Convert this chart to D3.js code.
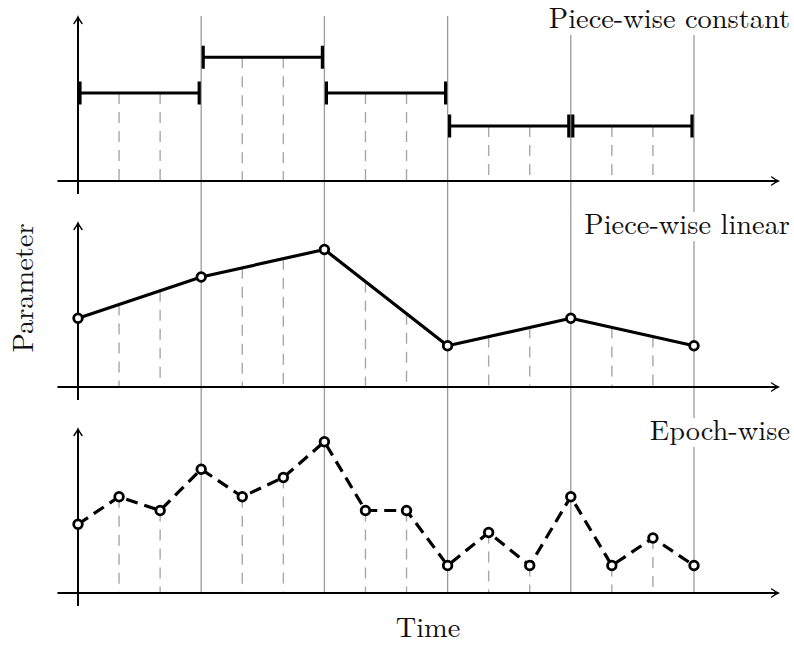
<!DOCTYPE html>
<html>
<head>
<meta charset="utf-8">
<script src="https://cdn.jsdelivr.net/npm/d3@7"></script>
<style>
  body { margin: 0; background: #fff; }
</style>
</head>
<body>
<svg id="chart"></svg>
<script>
const epochs = [0, 1, 2, 3, 4, 5, 6, 7, 8, 9, 10, 11, 12, 13, 14, 15];
const boundaries = [0, 3, 6, 9, 12, 15];
const constantValues = [3.2, 4.5, 3.2, 2, 2];
const linearValues = [2.5, 4, 5, 1.5, 2.5, 1.5];
const epochValues = [2.5, 3.5, 3, 4.5, 3.5, 4.2, 5.5, 3, 3, 1, 2.2, 1, 3.5, 1, 2, 1];
const panelLabels = ['Piece-wise constant', 'Piece-wise linear', 'Epoch-wise'];

const serif = "'Latin Modern Roman', 'Liberation Serif', serif";

class ScheduleChart {
    constructor (config) {
        this.config = {
            parent: config.parent,
            width: config.width || 794,
            height: config.height || 646,
            panelAxisY: config.panelAxisY || [181, 387, 593],
            panelHeight: config.panelHeight || 165,
            fontSize: config.fontSize || '28.4px'
        };
        this.init();
    }

    init() {
        let self = this;

        self.svg = d3.select(self.config.parent)
            .attr('width', self.config.width)
            .attr('height', self.config.height);

        self.svg.append('defs').append('marker')
            .attr('id', 'arrow')
            .attr('viewBox', '-8 -5 10 10')
            .attr('markerWidth', 10)
            .attr('markerHeight', 10)
            .attr('markerUnits', 'userSpaceOnUse')
            .attr('orient', 'auto')
            .append('path')
            .attr('d', 'M-6.5,-4 Q-2,-0.8 0,0 Q-2,0.8 -6.5,4')
            .attr('fill', 'none')
            .attr('stroke', '#000')
            .attr('stroke-width', 1.4)
            .attr('stroke-linecap', 'round');

        self.xscale = d3.scaleLinear()
            .domain([0, 15])
            .range([78, 694]);

        self.yscale = d3.scaleLinear()
            .domain([0, 6])
            .range([0, -self.config.panelHeight]);

        self.grid = self.svg.append('g');
        self.axes = self.svg.append('g');
        self.marks = self.svg.append('g');
        self.labels = self.svg.append('g');
    }

    // value of the piece-wise linear schedule at a given epoch
    linearAt(t) {
        const i = Math.min(Math.floor(t / 3), boundaries.length - 2);
        const t0 = boundaries[i], t1 = boundaries[i + 1];
        return linearValues[i] + (linearValues[i + 1] - linearValues[i]) * (t - t0) / (t1 - t0);
    }

    addText(sel) {
        return sel.append('text')
            .style('font-family', serif)
            .style('font-size', this.config.fontSize)
            .attr('fill', '#111');
    }

    render() {
        let self = this;
        const x = self.xscale;
        const ay = self.config.panelAxisY;

        // solid gray lines at the schedule boundaries
        self.grid.selectAll('line.bound')
            .data(boundaries.slice(1))
            .join('line')
            .attr('class', 'bound')
            .attr('x1', d => x(d))
            .attr('x2', d => x(d))
            .attr('y1', ay[0] + self.yscale(6))
            .attr('y2', ay[2])
            .attr('stroke', '#9a9a9a')
            .attr('stroke-width', 1.3);

        const inner = epochs.filter(t => !boundaries.includes(t));
        const levels = [
            t => constantValues[Math.floor(t / 3)],
            t => self.linearAt(t),
            t => epochValues[t]
        ];

        levels.forEach((level, p) => {
            self.grid.append('g').selectAll('line')
                .data(inner)
                .join('line')
                .attr('x1', d => x(d))
                .attr('x2', d => x(d))
                .attr('y1', d => ay[p] + self.yscale(level(d)))
                .attr('y2', ay[p])
                .attr('stroke', '#a8a8a8')
                .attr('stroke-width', 1.4)
                .attr('stroke-dasharray', '11,8');
        });

        // axes with arrow heads
        ay.forEach(y0 => {
            const g = self.axes.append('g');
            g.append('line')
                .attr('x1', x(-0.5)).attr('x2', x(17.05))
                .attr('y1', y0).attr('y2', y0)
                .attr('stroke', '#000').attr('stroke-width', 2)
                .attr('marker-end', 'url(#arrow)');
            g.append('line')
                .attr('x1', x(0)).attr('x2', x(0))
                .attr('y1', y0 + 13).attr('y2', y0 + self.yscale(6) + 1)
                .attr('stroke', '#000').attr('stroke-width', 2)
                .attr('marker-end', 'url(#arrow)');
        });

        // piece-wise constant
        const segs = constantValues.map((v, i) => ({t0: boundaries[i], t1: boundaries[i + 1], v: v}));
        const top = self.marks.append('g');
        top.selectAll('line.seg')
            .data(segs)
            .join('line')
            .attr('class', 'seg')
            .attr('x1', d => x(d.t0) + 2)
            .attr('x2', d => x(d.t1) - 2)
            .attr('y1', d => ay[0] + self.yscale(d.v))
            .attr('y2', d => ay[0] + self.yscale(d.v))
            .attr('stroke', '#000')
            .attr('stroke-width', 3.2);
        const caps = segs.flatMap(d => [{x: x(d.t0) + 2, v: d.v}, {x: x(d.t1) - 2, v: d.v}]);
        top.selectAll('line.cap')
            .data(caps)
            .join('line')
            .attr('class', 'cap')
            .attr('x1', d => d.x)
            .attr('x2', d => d.x)
            .attr('y1', d => ay[0] + self.yscale(d.v) - 11.5)
            .attr('y2', d => ay[0] + self.yscale(d.v) + 11.5)
            .attr('stroke', '#000')
            .attr('stroke-width', 3.2);

        // piece-wise linear
        const linePts = boundaries.map((t, i) => ({t: t, v: linearValues[i]}));
        self.drawSeries(linePts, ay[1], null);

        // epoch-wise
        const epochPts = epochs.map((t, i) => ({t: t, v: epochValues[i]}));
        self.drawSeries(epochPts, ay[2], '12,7');

        // panel labels with a white box over the grid lines
        panelLabels.forEach((label, p) => {
            const base = ay[p] - 153;
            const g = self.labels.append('g');
            const rect = g.append('rect').attr('fill', '#fff');
            const txt = self.addText(g)
                .attr('x', 790)
                .attr('y', base)
                .attr('text-anchor', 'end')
                .text(label);
            const w = txt.node().getComputedTextLength();
            rect.attr('x', 790 - w - 3).attr('y', base - 22)
                .attr('width', w + 6).attr('height', 29);
        });

        self.addText(self.labels)
            .attr('x', 428)
            .attr('y', 637)
            .attr('text-anchor', 'middle')
            .text('Time');

        self.addText(self.labels)
            .attr('transform', 'translate(33, 288) rotate(-90)')
            .attr('text-anchor', 'middle')
            .text('Parameter');
    }

    drawSeries(pts, y0, dash) {
        let self = this;
        const x = self.xscale;
        const line = d3.line()
            .x(d => x(d.t))
            .y(d => y0 + self.yscale(d.v));

        const g = self.marks.append('g');
        g.append('path')
            .datum(pts)
            .attr('d', line)
            .attr('fill', 'none')
            .attr('stroke', '#000')
            .attr('stroke-width', 3.2)
            .attr('stroke-linejoin', 'round')
            .attr('stroke-dasharray', dash);
        g.selectAll('circle')
            .data(pts)
            .join('circle')
            .attr('cx', d => x(d.t))
            .attr('cy', d => y0 + self.yscale(d.v))
            .attr('r', 4.3)
            .attr('fill', '#fff')
            .attr('stroke', '#000')
            .attr('stroke-width', 2.8);
    }
}

const chart = new ScheduleChart({parent: '#chart'});
chart.render();
</script>
</body>
</html>
